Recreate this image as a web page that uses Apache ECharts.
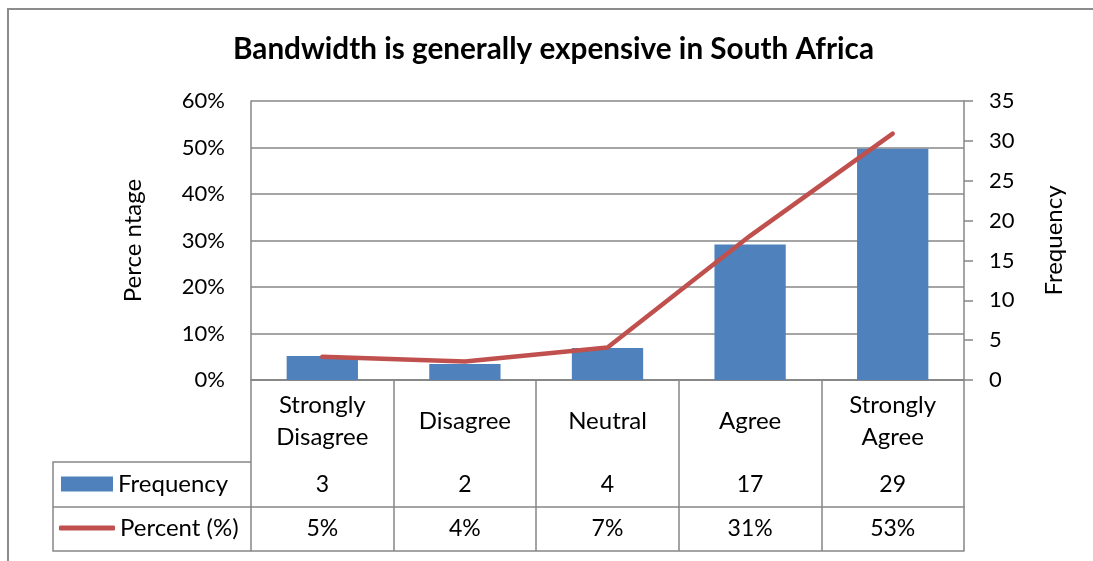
<!DOCTYPE html>
<html>
<head>
<meta charset="utf-8">
<title>Bandwidth is generally expensive in South Africa</title>
<script src="https://cdn.jsdelivr.net/npm/echarts@6/dist/echarts.min.js"></script>
<style>
  html, body { margin: 0; padding: 0; background: #fff; }
  #chart { width: 1093px; height: 561px; }
</style>
</head>
<body>
<div id="chart"></div>
<script>
// Survey responses: "Bandwidth is generally expensive in South Africa"
const categories = ['Strongly\nDisagree', 'Disagree', 'Neutral', 'Agree', 'Strongly\nAgree'];
const frequency = [3, 2, 4, 17, 29];
const percent = [5, 4, 7, 31, 53];
const percentTicks = { min: 0, max: 60, interval: 10 };
const frequencyTicks = { min: 0, max: 35, interval: 5 };

const FONT = 'Lato, "Open Sans", sans-serif';
const GRID = '#878787';
const BLUE = '#4F81BD';
const RED = '#C0504D';
const NUM_SIZE = 22;   // numeric labels
const TEXT_SIZE = 24;  // word labels

// plot area and data-table layout
const gridLeft = 251, gridRight = 1093 - 964, gridTop = 101, gridBottom = 561 - 380;
const axisY = 561 - gridBottom;
const rowCat = 82, rowFreq = 45, rowPct = 44;
const tableLeft = 53;

const chart = echarts.init(document.getElementById('chart'), null, { renderer: 'canvas' });

const tableAxis = (offset, formatter, margin) => ({
  type: 'category',
  data: categories,
  position: 'bottom',
  offset: offset,
  gridIndex: 0,
  axisLine: { show: true, lineStyle: { color: GRID, width: 1.5 } },
  axisTick: { show: false },
  splitLine: { show: false },
  axisLabel: formatter ? {
    show: true, interval: 0, margin: margin, verticalAlign: 'middle',
    formatter: formatter, color: '#000', fontSize: 23, fontFamily: FONT
  } : { show: false }
});

const option = {
  animation: false,
  backgroundColor: '#fff',
  title: {
    text: 'Bandwidth is generally expensive in South Africa',
    left: 228,
    top: 29,
    textStyle: { fontFamily: FONT, fontWeight: 'bold', fontSize: 29.7, color: '#000' }
  },
  legend: [
    {
      data: ['Frequency'], left: 61, top: 472, padding: 0,
      icon: 'rect', itemWidth: 52, itemHeight: 15,
      textStyle: { fontFamily: FONT, fontSize: TEXT_SIZE, color: '#000' },
      selectedMode: false
    },
    {
      data: ['Percent (%)'], left: 59, top: 516, padding: 0,
      icon: 'roundRect', itemWidth: 56, itemHeight: 5,
      textStyle: { fontFamily: FONT, fontSize: TEXT_SIZE, color: '#000' },
      selectedMode: false
    }
  ],
  grid: { left: gridLeft, right: gridRight, top: gridTop, bottom: gridBottom, containLabel: false },
  xAxis: [
    {
      type: 'category',
      data: categories,
      position: 'bottom',
      axisLine: { show: true, lineStyle: { color: GRID, width: 1.5 } },
      axisTick: { show: true, interval: 0, length: rowCat + rowFreq + rowPct, lineStyle: { color: GRID, width: 1.5 } },
      axisLabel: {
        interval: 0, margin: rowCat / 2, verticalAlign: 'middle', lineHeight: 32,
        color: '#000', fontSize: TEXT_SIZE, fontFamily: FONT
      },
      splitLine: { show: false }
    },
    tableAxis(rowCat, (v, i) => String(frequency[i]), rowFreq / 2),
    tableAxis(rowCat + rowFreq, (v, i) => percent[i] + '%', rowPct / 2),
    tableAxis(rowCat + rowFreq + rowPct, null, 0)
  ],
  yAxis: [
    {
      type: 'value',
      position: 'left',
      min: percentTicks.min, max: percentTicks.max, interval: percentTicks.interval,
      name: 'Perce ntage',
      nameLocation: 'middle',
      nameGap: 106,
      nameTextStyle: { fontFamily: FONT, fontSize: TEXT_SIZE, color: '#000' },
      axisLine: { show: true, lineStyle: { color: GRID, width: 1.5 } },
      axisTick: { show: false },
      axisLabel: { formatter: '{value}%', margin: 26, color: '#000', fontSize: NUM_SIZE, fontFamily: FONT },
      splitLine: { show: true, lineStyle: { color: GRID, width: 1.5 } }
    },
    {
      type: 'value',
      position: 'right',
      min: frequencyTicks.min, max: frequencyTicks.max, interval: frequencyTicks.interval,
      name: 'Frequency',
      nameLocation: 'middle',
      nameGap: 78,
      nameRotate: 90,
      nameTextStyle: { fontFamily: FONT, fontSize: TEXT_SIZE, color: '#000' },
      axisLine: { show: true, lineStyle: { color: GRID, width: 1.5 } },
      axisTick: { show: true, inside: false, length: 9, lineStyle: { color: GRID, width: 1.5 } },
      axisLabel: { margin: 25, color: '#000', fontSize: NUM_SIZE, fontFamily: FONT },
      splitLine: { show: false }
    }
  ],
  series: [
    {
      name: 'Frequency',
      type: 'bar',
      xAxisIndex: 0,
      yAxisIndex: 1,
      data: frequency,
      barWidth: '50%',
      itemStyle: { color: BLUE }
    },
    {
      name: 'Percent (%)',
      type: 'line',
      xAxisIndex: 0,
      yAxisIndex: 0,
      data: percent,
      symbol: 'none',
      color: RED,
      itemStyle: { color: RED },
      lineStyle: { color: RED, width: 4.5, cap: 'round', join: 'round' },
      z: 5
    }
  ],
  graphic: [
    // outer chart frame
    {
      type: 'rect', silent: true,
      shape: { x: 8, y: 9, width: 1200, height: 800 },
      style: { fill: 'none', stroke: '#8c8c8c', lineWidth: 2 }
    },
    // legend column of the data table
    {
      type: 'polyline', silent: true,
      shape: { points: [[gridLeft, axisY + rowCat], [tableLeft, axisY + rowCat], [tableLeft, axisY + rowCat + rowFreq + rowPct], [gridLeft, axisY + rowCat + rowFreq + rowPct]] },
      style: { fill: 'none', stroke: GRID, lineWidth: 1.5 }
    },
    {
      type: 'line', silent: true,
      shape: { x1: tableLeft, y1: axisY + rowCat + rowFreq, x2: gridLeft, y2: axisY + rowCat + rowFreq },
      style: { stroke: GRID, lineWidth: 1.5 }
    }
  ]
};

chart.setOption(option);
</script>
</body>
</html>
